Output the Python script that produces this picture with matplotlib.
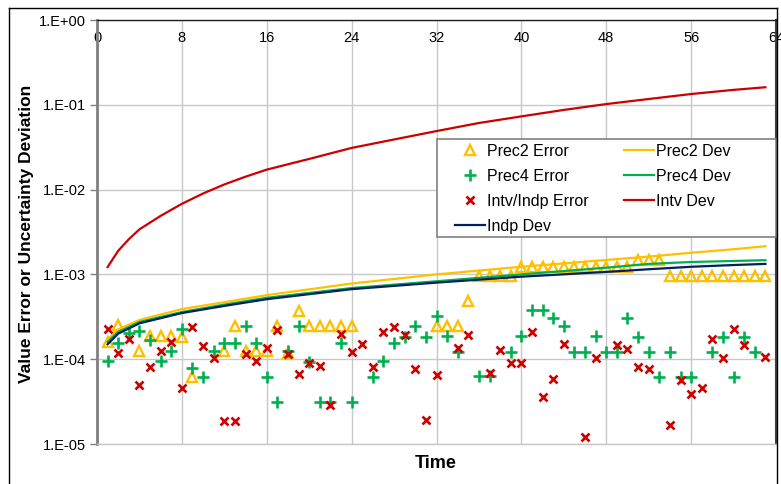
import matplotlib
matplotlib.use("Agg")
import matplotlib.pyplot as plt
from matplotlib.patches import Rectangle
from matplotlib.lines import Line2D
from matplotlib.ticker import NullLocator

plt.rcParams['font.family'] = ['Liberation Sans', 'DejaVu Sans']

# ---------------- data ----------------
x_ticks = [0, 8, 16, 24, 32, 40, 48, 56, 64]
y_ticks = [1e-5, 1e-4, 1e-3, 1e-2, 1e-1, 1e0]
y_tick_labels = ['1.E-05', '1.E-04', '1.E-03', '1.E-02', '1.E-01', '1.E+00']

prec2_err_t = [1, 2, 4, 5, 6, 7, 8, 9, 12, 13, 14, 15, 16, 17, 18, 19, 20, 21, 22, 23, 24,
               32, 33, 34, 35, 36, 37, 38, 39, 40, 41, 42, 43, 44, 45, 46, 47, 48, 49, 50,
               51, 52, 53, 54, 55, 56, 57, 58, 59, 60, 61, 62, 63]
prec2_err = [1.6e-4, 2.5e-4, 1.25e-4, 1.88e-4, 1.88e-4, 1.88e-4, 1.85e-4, 6.1e-5, 1.24e-4,
             2.46e-4, 1.24e-4, 1.24e-4, 1.24e-4, 2.46e-4, 1.18e-4, 3.7e-4, 2.46e-4, 2.46e-4,
             2.46e-4, 2.46e-4, 2.46e-4,
             2.46e-4, 2.46e-4, 2.46e-4, 4.85e-4, 9.7e-4, 9.7e-4, 9.7e-4, 9.7e-4, 1.22e-3,
             1.22e-3, 1.22e-3, 1.22e-3, 1.22e-3, 1.22e-3, 1.22e-3, 1.22e-3, 1.22e-3, 1.22e-3,
             1.22e-3, 1.46e-3, 1.46e-3, 1.46e-3, 9.7e-4, 9.7e-4, 9.7e-4, 9.7e-4, 9.7e-4,
             9.7e-4, 9.7e-4, 9.7e-4, 9.7e-4, 9.7e-4]

prec4_err_t = [1, 2, 3, 4, 5, 6, 7, 8, 9, 10, 11, 12, 13, 14, 15, 16, 17, 18, 19, 20, 21, 22,
               23, 24, 26, 27, 28, 29, 30, 31, 32, 33, 34, 36, 37, 39, 40, 41, 42, 43, 44, 45,
               46, 47, 48, 49, 50, 51, 52, 53, 54, 55, 56, 58, 59, 60, 61, 62]
prec4_err = [9.5e-5, 1.57e-4, 2.06e-4, 2.15e-4, 1.67e-4, 9.5e-5, 1.25e-4, 2.3e-4, 7.8e-5,
             6.2e-5, 1.25e-4, 1.57e-4, 1.57e-4, 2.46e-4, 1.57e-4, 6.2e-5, 3.1e-5, 1.25e-4,
             2.46e-4, 9.3e-5, 3.1e-5, 3.1e-5, 1.57e-4, 3.1e-5, 6.2e-5, 9.5e-5, 1.57e-4,
             1.85e-4, 2.46e-4, 1.85e-4, 3.2e-4, 1.88e-4, 1.22e-4, 6.4e-5, 6.4e-5, 1.22e-4,
             1.88e-4, 3.77e-4, 3.77e-4, 3.1e-4, 2.46e-4, 1.22e-4, 1.22e-4, 1.88e-4, 1.22e-4,
             1.22e-4, 3.1e-4, 1.85e-4, 1.22e-4, 6.2e-5, 1.22e-4, 6.2e-5, 6.2e-5, 1.22e-4,
             1.85e-4, 6.2e-5, 1.85e-4, 1.22e-4]

intv_err_t = [1, 2, 3, 4, 5, 6, 7, 8, 9, 10, 11, 12, 13, 14, 15, 16, 17, 18, 19, 20, 21, 22,
              23, 24, 25, 26, 27, 28, 29, 30, 31, 32, 34, 35, 37, 38, 39, 40, 41, 42, 43, 44,
              46, 47, 49, 50, 51, 52, 54, 55, 56, 57, 58, 59, 60, 61, 63]
intv_err = [2.25e-4, 1.18e-4, 1.72e-4, 4.9e-5, 8.2e-5, 1.24e-4, 1.6e-4, 4.6e-5, 2.4e-4,
            1.43e-4, 1.04e-4, 1.85e-5, 1.85e-5, 1.14e-4, 9.5e-5, 1.34e-4, 2.2e-4, 1.14e-4,
            6.7e-5, 9.1e-5, 8.3e-5, 2.9e-5, 2.0e-4, 1.23e-4, 1.53e-4, 8.2e-5, 2.1e-4, 2.4e-4,
            1.93e-4, 7.6e-5, 1.9e-5, 6.5e-5, 1.37e-4, 1.95e-4, 6.8e-5, 1.29e-4, 8.9e-5,
            8.9e-5, 2.1e-4, 3.54e-5, 5.9e-5, 1.5e-4, 1.22e-5, 1.04e-4, 1.47e-4, 1.31e-4,
            8.1e-5, 7.6e-5, 1.69e-5, 5.7e-5, 3.9e-5, 4.55e-5, 1.72e-4, 1.02e-4, 2.25e-4,
            1.46e-4, 1.05e-4]

dev_t = [1, 2, 4, 8, 12, 16, 24, 32, 40, 48, 52, 56, 60, 63]
prec2_dev = [1.7e-4, 2.25e-4, 2.9e-4, 3.9e-4, 4.7e-4, 5.7e-4, 7.8e-4, 1.0e-3, 1.23e-3,
             1.48e-3, 1.62e-3, 1.8e-3, 1.98e-3, 2.15e-3]
prec4_dev = [1.6e-4, 2.1e-4, 2.75e-4, 3.6e-4, 4.4e-4, 5.3e-4, 6.9e-4, 8.3e-4, 1.0e-3,
             1.2e-3, 1.33e-3, 1.4e-3, 1.44e-3, 1.47e-3]
indp_dev = [1.5e-4, 2.0e-4, 2.65e-4, 3.5e-4, 4.25e-4, 5.1e-4, 6.7e-4, 8.0e-4, 9.4e-4,
            1.07e-3, 1.15e-3, 1.23e-3, 1.29e-3, 1.33e-3]

intv_dev_t = [1, 2, 3, 4, 6, 8, 10, 12, 14, 16, 20, 24, 28, 32, 36, 40, 44, 48, 52, 56, 60, 63]
intv_dev = [1.22e-3, 1.9e-3, 2.6e-3, 3.4e-3, 4.9e-3, 6.8e-3, 9.0e-3, 1.15e-2, 1.42e-2,
            1.72e-2, 2.3e-2, 3.1e-2, 3.9e-2, 4.9e-2, 6.1e-2, 7.3e-2, 8.7e-2, 0.102, 0.117,
            0.134, 0.15, 0.161]

# ---------------- styles ----------------
C_YEL = '#FFC000'
C_GRN = '#00B050'
C_RED = '#CC0000'
C_NAV = '#002060'

W, H = 781, 484
fig = plt.figure(figsize=(W / 100, H / 100), dpi=100)
L, R, T, B = 97, 776, 20, 444
ax = fig.add_axes([L / W, 1 - B / H, (R - L) / W, (B - T) / H])

ax.set_yscale('log')
ax.set_xlim(0, 64)
ax.set_ylim(1e-5, 1)

ax.grid(True, which='major', color='#C8C8C8', lw=1)
ax.set_axisbelow(True)

h_tri, = ax.plot(prec2_err_t, prec2_err, ls='none', marker='^', ms=6.5, mfc='none',
                 mec=C_YEL, mew=1.7, label='Prec2 Error')
h_plus, = ax.plot(prec4_err_t, prec4_err, ls='none', marker='+', ms=8, mec=C_GRN,
                  mew=1.9, label='Prec4 Error')
h_x, = ax.plot(intv_err_t, intv_err, ls='none', marker='x', ms=5.8, mec=C_RED,
               mew=1.9, label='Intv/Indp Error')
h_p2, = ax.plot(dev_t, prec2_dev, color=C_YEL, lw=1.6, label='Prec2 Dev')
h_p4, = ax.plot(dev_t, prec4_dev, color=C_GRN, lw=1.6, label='Prec4 Dev')
h_iv, = ax.plot(intv_dev_t, intv_dev, color=C_RED, lw=1.6, label='Intv Dev')
h_id, = ax.plot(dev_t, indp_dev, color=C_NAV, lw=1.6, label='Indp Dev')

# ticks
ax.set_xticks(x_ticks)
ax.set_xticklabels([str(v) for v in x_ticks])
ax.xaxis.tick_top()
ax.tick_params(axis='x', which='major', length=0, pad=-18, labelsize=10.5,
               labelcolor='#000000')
ax.set_yticks(y_ticks)
ax.set_yticklabels(y_tick_labels)
ax.yaxis.set_minor_locator(NullLocator())
ax.tick_params(axis='y', which='major', direction='out', length=5, width=1,
               color='#808080', labelsize=10.5, pad=3)

ax.spines['left'].set_color('#808080')
ax.spines['left'].set_linewidth(2)
ax.spines['top'].set_color('#202020')
ax.spines['top'].set_linewidth(1)
ax.spines['bottom'].set_color('#C8C8C8')
ax.spines['bottom'].set_linewidth(1)
ax.spines['right'].set_color('#404040')
ax.spines['right'].set_linewidth(1.5)

# axis titles
fig.text(27 / W, 1 - 234 / H, 'Value Error or Uncertainty Deviation', rotation=90,
         ha='center', va='center', fontsize=12.5, fontweight='bold')
fig.text(436 / W, 1 - 463 / H, 'Time', ha='center', va='center', fontsize=13,
         fontweight='bold')

# legend box
box = Rectangle((437 / W, 1 - 237 / H), (776 - 437) / W, (237 - 139) / H,
                transform=fig.transFigure, facecolor='white', edgecolor='#808080',
                lw=1.2, zorder=4.5, clip_on=False)
ax.add_patch(box)

leg_kw = dict(frameon=False, fontsize=11.5, borderpad=0, borderaxespad=0,
              handlelength=1.9, handletextpad=0.1, labelspacing=0.62,
              bbox_transform=fig.transFigure, loc='upper left', numpoints=1)
leg1 = ax.legend(handles=[h_tri, h_plus, h_x, h_id],
                 bbox_to_anchor=(455 / W, 1 - 144 / H), **leg_kw)
leg1.set_zorder(5)
ax.add_artist(leg1)
leg2 = ax.legend(handles=[h_p2, h_p4, h_iv],
                 bbox_to_anchor=(624 / W, 1 - 144 / H), **leg_kw)
leg2.set_zorder(5)

# outer chart border
fig.add_artist(Line2D([9 / W, 777 / W], [1 - 7.5 / H, 1 - 7.5 / H], color='#000000',
                      lw=1, transform=fig.transFigure))
fig.add_artist(Line2D([9 / W, 9 / W], [0, 1 - 7.5 / H], color='#000000', lw=1,
                      transform=fig.transFigure))
fig.add_artist(Line2D([777 / W, 777 / W], [0, 1 - 7.5 / H], color='#000000', lw=1,
                      transform=fig.transFigure))

fig.savefig('out.png', dpi=100)
